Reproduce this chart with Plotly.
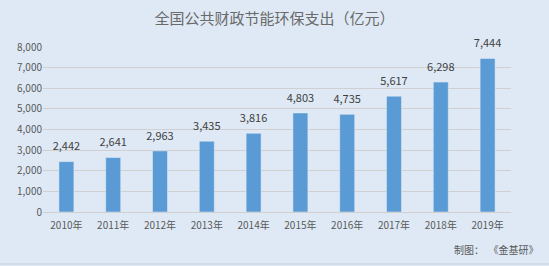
import plotly.graph_objects as go

years = ["2010年", "2011年", "2012年", "2013年", "2014年", "2015年", "2016年", "2017年", "2018年", "2019年"]
values = [2442, 2641, 2963, 3435, 3816, 4803, 4735, 5617, 6298, 7444]
y_ticks = [0, 1000, 2000, 3000, 4000, 5000, 6000, 7000, 8000]

font_family = "Noto Sans CJK SC, Microsoft YaHei, sans-serif"
bg = "#DEE9F5"

fig = go.Figure()
fig.add_trace(go.Bar(
    x=years, y=values,
    marker_color="#5B9BD5",
    width=0.32,
    hoverinfo="x+y",
))
fig.add_trace(go.Scatter(
    x=years, y=values,
    mode="markers+text",
    marker=dict(size=12, opacity=0),
    text=[f"{v:,}" for v in values],
    textposition="top center",
    textfont=dict(size=11, color="#404040", family=font_family),
    cliponaxis=False,
    hoverinfo="skip",
))

fig.update_layout(
    width=549, height=266,
    margin=dict(l=43, r=38, t=47, b=54),
    paper_bgcolor=bg, plot_bgcolor=bg,
    showlegend=False,
    title=dict(text="全国公共财政节能环保支出（亿元）", x=0.5, xanchor="center", y=0.93, yanchor="middle",
               font=dict(size=15, color="#6a6a6a", family=font_family)),
    font=dict(family=font_family, size=10, color="#595959"),
    xaxis=dict(range=[-0.5, len(years) - 0.5], showgrid=False, showline=True, linecolor="#D0D0D0",
               linewidth=1, ticks="", ticklabelstandoff=4, tickfont=dict(size=10, color="#595959")),
    yaxis=dict(range=[0, 8000], tickvals=y_ticks, tickformat=",", showgrid=True, gridcolor="#D0D0D0",
               gridwidth=1, zeroline=False, ticks="", tickfont=dict(size=10, color="#595959")),
    annotations=[dict(text="制图：  《金基研》", xref="paper", yref="paper", x=1.062, y=-0.23,
                      xanchor="right", yanchor="middle", showarrow=False,
                      font=dict(size=10, color="#595959", family=font_family))],
    shapes=[dict(type="line", xref="paper", yref="paper", x0=-0.1, x1=1.1, y0=-0.315, y1=-0.315,
                 line=dict(width=1, color="#C8D0DA"))],
)

fig.write_html("out.html")
